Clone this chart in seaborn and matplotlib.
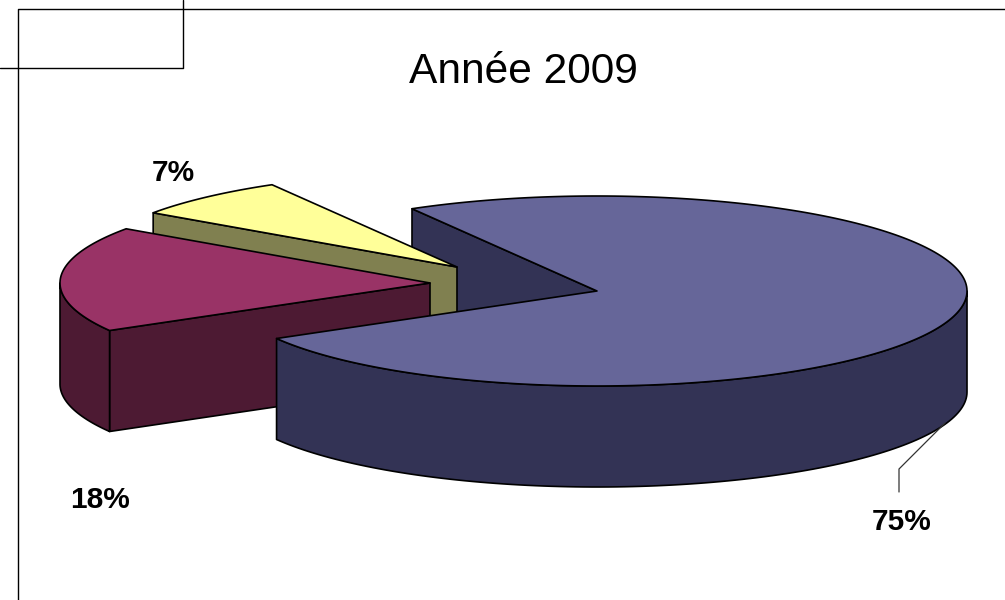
import numpy as np
import matplotlib
matplotlib.use("Agg")
import matplotlib.pyplot as plt
import seaborn as sns

# data
title = "Année 2009"
shares = [75, 18, 7]
labels = ["75%", "18%", "7%"]
top_colors = ["#666699", "#993366", "#FFFF99"]
side_colors = ["#333355", "#4D1A33", "#808050"]

# layout of the fake 3d pie, in pixels
apex = [(597, 291), (430, 283), (457, 267)]
label_pos = [(901.5, 522.5), (100.5, 499.5), (173, 173)]
rx, ry = 370, 95
depth = 101
start_angle = 120

sns.set_theme(style="white")
plt.rcParams["font.family"] = ["Liberation Sans", "DejaVu Sans"]
top_pal = sns.color_palette(top_colors)
side_pal = sns.color_palette(side_colors)

fig, ax = plt.subplots(figsize=(10.05, 6), dpi=100)
ax.set_position([0, 0, 1, 1])
ax.set_xlim(0, 1005)
ax.set_ylim(600, 0)
ax.axis("off")


def rim(c, a, b, n=120):
    t = np.radians(np.linspace(a, b, n))
    return c[0] + rx * np.cos(t), c[1] - ry * np.sin(t)


def shape(xs, ys, color):
    ax.fill(xs, ys, facecolor=color, edgecolor="black", linewidth=1.2, joinstyle="round")


# slices go clockwise from the start angle
ends = start_angle - np.cumsum(shares) * 3.6
starts = np.r_[start_angle, ends[:-1]]


def cut_face(i):
    c = apex[i]
    x, y = rim(c, starts[i], starts[i], 1)
    shape([c[0], x[0], x[0], c[0]], [c[1], y[0], y[0] + depth, c[1] + depth], side_pal[i])


def side_wall(i):
    # only the part of the rim that faces the viewer (180 to 360 degrees)
    hi, lo = starts[i] % 360, ends[i] % 360
    if lo > hi:
        hi += 360
    a = min(hi, 360)
    b = max(lo, 180)
    if a <= b:
        return
    x, y = rim(apex[i], a, b)
    shape(np.r_[x, x[::-1]], np.r_[y, y[::-1] + depth], side_pal[i])


def top(i):
    c = apex[i]
    x, y = rim(c, starts[i], ends[i], 240)
    shape(np.r_[c[0], x], np.r_[c[1], y], top_pal[i])


# back to front: big slice's inner wall, then the two pulled out slices, then the big one
cut_face(0)
for i in [2, 1]:
    cut_face(i)
    side_wall(i)
    top(i)
side_wall(0)
top(0)

# leader for the big slice
ax.plot([945, 899, 899], [423, 469, 492], color="#333333", linewidth=0.9)

for lab, (lx, ly) in zip(labels, label_pos):
    ax.text(lx, ly, lab, ha="center", va="center", fontsize=21.5, fontweight="bold", color="black")
ax.text(523.5, 72, title, ha="center", va="center", fontsize=30.6, color="black")

# frame lines left over from the slide
ax.plot([1005, 17.5, 17.5], [9, 9, 600], color="black", linewidth=1, clip_on=False)
ax.plot([183, 183, 0], [0, 68, 68], color="black", linewidth=1, clip_on=False)

fig.savefig("out.png", dpi=100, facecolor="white")
plt.close()
